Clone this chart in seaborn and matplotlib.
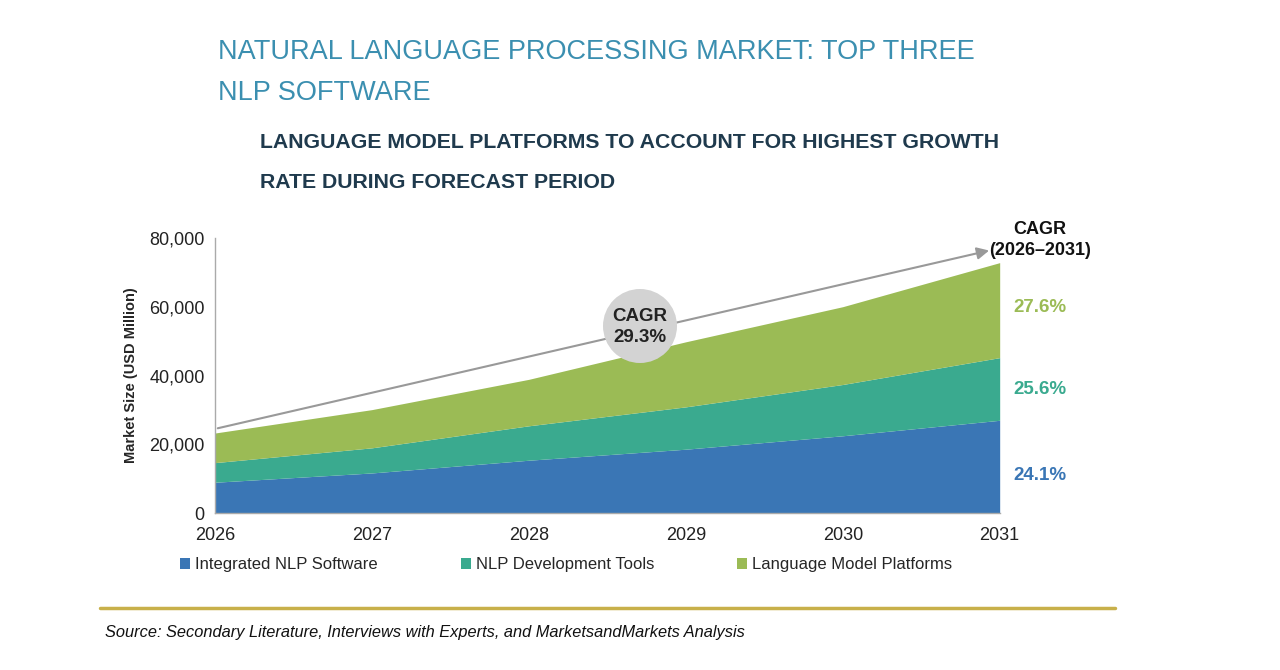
import numpy as np
import pandas as pd
import matplotlib
matplotlib.use("Agg")
import matplotlib.pyplot as plt
import seaborn as sns
from matplotlib.patches import Ellipse, Patch
from matplotlib.ticker import FuncFormatter

# DATA (USD Million)
years = [2026, 2027, 2028, 2029, 2030, 2031]
integrated_nlp = [9000, 11700, 15400, 18600, 22500, 27000]
nlp_dev_tools = [5700, 7300, 10000, 12300, 14900, 18200]
lang_model = [8600, 11100, 13500, 18900, 22600, 27600]
series_names = ["Integrated NLP Software", "NLP Development Tools", "Language Model Platforms"]
segment_cagr = ["24.1%", "25.6%", "27.6%"]
total_cagr = "29.3%"

COLORS = ["#3A76B5", "#3AAA8F", "#9BBB55"]

sns.set_theme(style="white")
plt.rcParams['font.family'] = ['Liberation Sans Narrow', 'Liberation Sans', 'DejaVu Sans']

df = pd.DataFrame({"Year": years, series_names[0]: integrated_nlp,
                   series_names[1]: nlp_dev_tools, series_names[2]: lang_model})

fig = plt.figure(figsize=(12.8, 6.7), dpi=100)
ax = fig.add_axes([0.168, 0.234, 0.613, 0.411])

ax.stackplot(df["Year"], df[series_names[0]], df[series_names[1]], df[series_names[2]],
             colors=COLORS, linewidth=0)

ax.set_xlim(2026, 2031)
ax.set_ylim(0, 80000)
ax.set_xticks(years)
ax.set_yticks(range(0, 80001, 20000))
ax.yaxis.set_major_formatter(FuncFormatter(lambda v, p: f"{int(v):,}"))
ax.tick_params(axis='both', labelsize=13, colors="#222222", length=4, width=0.8, direction='out')
ax.tick_params(axis='x', pad=6)
ax.tick_params(axis='both', color="#999999")
for s in ["top", "right"]:
    ax.spines[s].set_visible(False)
for s in ["left", "bottom"]:
    ax.spines[s].set_color("#aaaaaa")
    ax.spines[s].set_linewidth(1)
ax.set_ylabel("Market Size (USD Million)", fontsize=10.5, fontweight='bold', labelpad=8)

# CAGR trend arrow
totals = df[series_names].sum(axis=1)
ax.annotate("", xy=(2030.95, 76500), xytext=(2026, totals.iloc[0] + 1200),
            arrowprops=dict(arrowstyle="-|>", color="#999999", lw=1.5, mutation_scale=18),
            annotation_clip=False)

# CAGR bubble
bubble = Ellipse((640 / 1280, 1 - 326 / 670), 74 / 1280, 74 / 670,
                 transform=fig.transFigure, facecolor="#D3D3D3", edgecolor="none", zorder=5)
fig.patches.append(bubble)
fig.text(640 / 1280, 1 - 327 / 670, f"CAGR\n{total_cagr}", ha='center', va='center',
         fontsize=13.5, fontweight='bold', color="#222222", zorder=6, linespacing=1.35)

# right side CAGR column
fig.text(1040 / 1280, 1 - 240 / 670, "CAGR\n(2026\u20132031)", ha='center', va='center',
         fontsize=13, fontweight='bold', color="#111111", linespacing=1.35)
for lbl, yp, c in zip(segment_cagr, [475, 390, 307], COLORS):
    fig.text(1040 / 1280, 1 - yp / 670, lbl, ha='center', va='center',
             fontsize=13.5, fontweight='bold', color=c)

# legend
handles = [Patch(facecolor=c, edgecolor='none') for c in COLORS]
fig.legend(handles, series_names, loc='center', bbox_to_anchor=(566 / 1280, 1 - 565 / 670),
           ncol=3, frameon=False, fontsize=12, handlelength=0.6, handleheight=0.6,
           handletextpad=0.3, columnspacing=5.0)

# titles
fig.text(218 / 1280, 1 - 52 / 670, "NATURAL LANGUAGE PROCESSING MARKET: TOP THREE",
         ha='left', va='center', fontsize=19.5, color="#3B8FB0")
fig.text(218 / 1280, 1 - 93 / 670, "NLP SOFTWARE",
         ha='left', va='center', fontsize=19.5, color="#3B8FB0")
fig.text(260 / 1280, 1 - 142 / 670, "LANGUAGE MODEL PLATFORMS TO ACCOUNT FOR HIGHEST GROWTH",
         ha='left', va='center', fontsize=15.3, fontweight='bold', color="#1F3A4D")
fig.text(260 / 1280, 1 - 183 / 670, "RATE DURING FORECAST PERIOD",
         ha='left', va='center', fontsize=15.3, fontweight='bold', color="#1F3A4D")

# gold separator + source
fig.add_artist(plt.Line2D([100 / 1280, 1115 / 1280], [1 - 608 / 670, 1 - 608 / 670],
                          color="#C8B04A", lw=2.5, transform=fig.transFigure))
fig.text(105 / 1280, 1 - 633 / 670,
         "Source: Secondary Literature, Interviews with Experts, and MarketsandMarkets Analysis",
         ha='left', va='center', fontsize=11.8, style='italic', color="#111111")

fig.savefig("out.png", dpi=100)
